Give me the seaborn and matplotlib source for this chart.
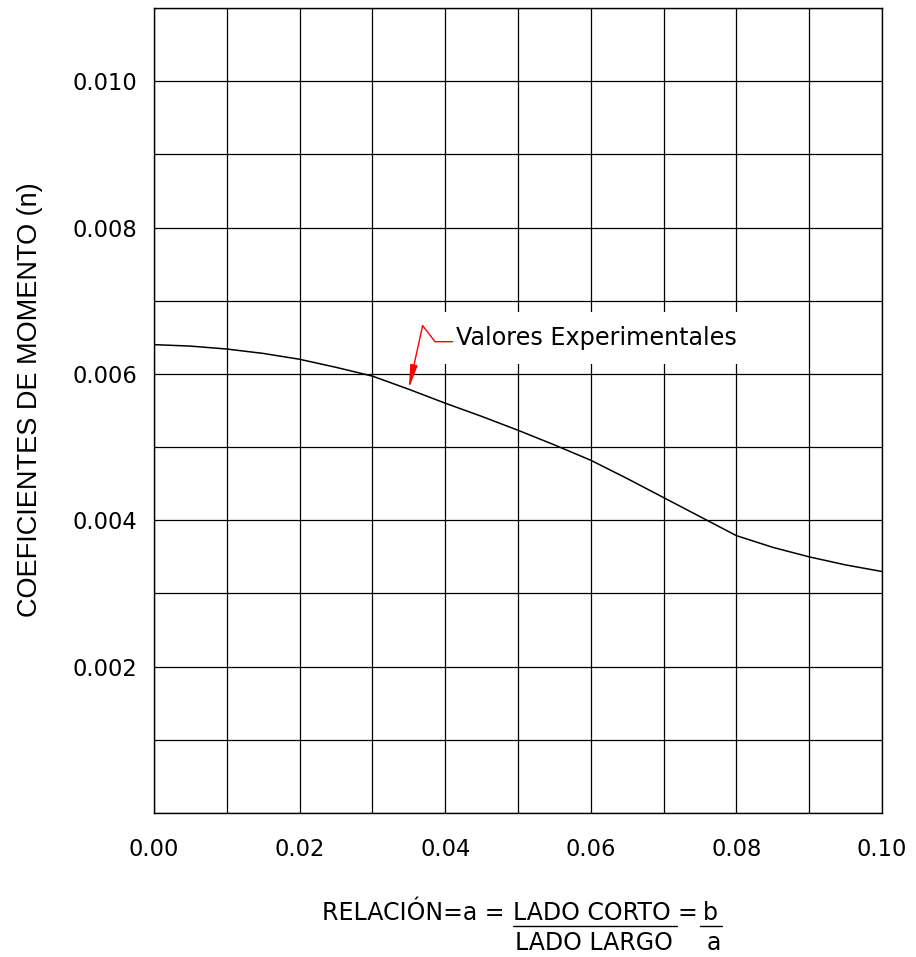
import numpy as np
import pandas as pd
import seaborn as sns
import matplotlib.pyplot as plt
from matplotlib.lines import Line2D

# relacion a = b/a  vs  coeficiente de momento n
relacion = [0.000, 0.005, 0.010, 0.015, 0.020, 0.025, 0.030, 0.035, 0.040, 0.045, 0.050,
            0.055, 0.060, 0.065, 0.070, 0.075, 0.080, 0.085, 0.090, 0.095, 0.100]
coef_n = [0.00640, 0.00638, 0.00634, 0.00628, 0.00620, 0.00609, 0.00597, 0.00579, 0.00560,
          0.00542, 0.00523, 0.00503, 0.00482, 0.00457, 0.00431, 0.00405, 0.00379, 0.00363,
          0.00350, 0.00339, 0.00330]

xticks = [0.00, 0.02, 0.04, 0.06, 0.08, 0.10]
yticks = [0.002, 0.004, 0.006, 0.008, 0.010]

df = pd.DataFrame({"relacion": relacion, "n": coef_n})

sns.set_style("white")
plt.rcParams['font.family'] = ['DejaVu Sans']
plt.rcParams['text.color'] = 'black'
plt.rcParams['axes.labelcolor'] = 'black'

fig = plt.figure(figsize=(9.16, 9.57), dpi=100)
ax = fig.add_axes([154 / 916, 1 - 813 / 957, 728 / 916, 805 / 957])

sns.lineplot(data=df, x="relacion", y="n", ax=ax, color="black", linewidth=1.1, zorder=4)

ax.set_xlim(0, 0.10)
ax.set_ylim(0, 0.011)
ax.set_xticks(xticks)
ax.set_xticklabels([f"{v:.2f}" for v in xticks])
ax.set_yticks(yticks)
ax.set_yticklabels([f"{v:.3f}" for v in yticks])
ax.set_xticks(np.arange(0, 0.1001, 0.01), minor=True)
ax.set_yticks(np.arange(0, 0.0111, 0.001), minor=True)
ax.grid(which="both", color="black", linewidth=0.9)
ax.set_axisbelow(True)
ax.tick_params(which="both", length=0, labelsize=16.3, colors="black")
ax.tick_params(axis="x", pad=18)
ax.tick_params(axis="y", pad=12)
for s in ax.spines.values():
    s.set_color("black")
    s.set_linewidth(1.0)

ax.set_xlabel("")
ax.set_ylabel("COEFICIENTES DE MOMENTO (n)", fontsize=19.5,
              family=['Liberation Sans', 'DejaVu Sans'])
ax.yaxis.set_label_coords(-0.153, 0.513)

# etiqueta con linea guia en zigzag
ax.text(0.0415, 0.00649, "Valores Experimentales", fontsize=17.2, va="center", ha="left",
        zorder=3, bbox=dict(boxstyle="square,pad=0.6", fc="white", ec="none"))
ax.plot([0.0410, 0.0386, 0.0369], [0.00644, 0.00644, 0.00666], color="red", lw=1.0, zorder=6)
ax.annotate("", xy=(0.0350, 0.00580), xytext=(0.0369, 0.00666),
            arrowprops=dict(arrowstyle="-|>,head_length=1.4,head_width=0.22",
                            color="red", lw=1.0, shrinkA=0, shrinkB=0), zorder=6)

# etiqueta del eje x en forma de fraccion
y1 = 1 - 913 / 957
y2 = 1 - 943 / 957
fs = 17
fig.text(322 / 916, y1, "RELACIÓN=a =", fontsize=fs, va="center", ha="left")
fig.text(513 / 916, y1, "LADO CORTO", fontsize=fs, va="center", ha="left")
fig.text(677 / 916, y1, "=", fontsize=fs, va="center", ha="left")
fig.text(703 / 916, y1, "b", fontsize=fs, va="center", ha="left")
fig.text(515 / 916, y2, "LADO LARGO", fontsize=fs, va="center", ha="left")
fig.text(707 / 916, y2, "a", fontsize=fs, va="center", ha="left")
yu = 1 - 926 / 957
fig.add_artist(Line2D([513 / 916, 677 / 916], [yu, yu], color="black", lw=1.0))
fig.add_artist(Line2D([700 / 916, 722 / 916], [yu, yu], color="black", lw=1.0))

fig.savefig("out.png", dpi=100, facecolor="white")
